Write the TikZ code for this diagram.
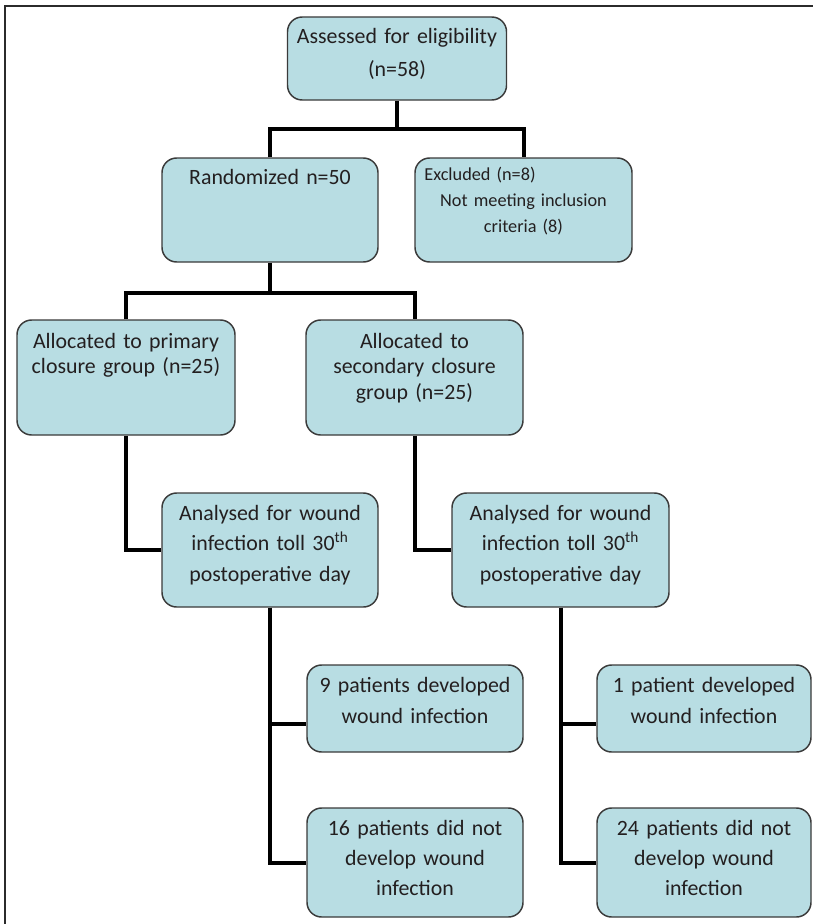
\documentclass[tikz,border=0pt]{standalone}
\usepackage{fontspec}
\setmainfont{Carlito}
\definecolor{boxfill}{HTML}{B8DDE3}
\definecolor{boxline}{HTML}{3A3A3A}
\definecolor{txt}{HTML}{231F20}
\definecolor{frame}{HTML}{2B2B2B}

\begin{document}
\begin{tikzpicture}[line cap=round,line join=round,x=0.75pt,y=-0.75pt,
	box/.style={draw=boxline,fill=boxfill,line width=1.1pt,rounded corners=11pt,inner xsep=0pt,inner ysep=0pt,
		align=center,text=txt,text height=20.25pt,font={\fontsize{16.4}{23}\selectfont}},
	link/.style={line width=3pt,line cap=butt,line join=miter,color=black}]
	\useasboundingbox (0,0) rectangle (813,924);
	\draw[line width=2.2pt,color=frame,line cap=butt,line join=miter] (5,924) -- (5,6) -- (813,6);

	\node[box,text width=164.25pt,text height=19.9pt,text depth=42.35pt,font={\fontsize{16.4}{24.75}\selectfont}] (assess) at (397,58.5) {Assessed for eligibility\\(n=58)};
	\node[box,text width=162pt,text height=19.9pt,text depth=58.1pt] (rand) at (270,210) {Randomized n=50};
	\node[box,text width=162.75pt,text height=16.9pt,text depth=61.1pt,font={\fontsize{13.7}{19.5}\selectfont}] (excl) at (523.5,210) {\hspace*{7pt}Excluded (n=8)\hfill\null\\Not meeting inclusion\\criteria (8)};
	\node[box,text width=163.5pt,text height=21.4pt,text depth=64.85pt,font={\fontsize{16.4}{19}\selectfont}] (prim) at (126,377.5) {Allocated to primary\\closure group (n=25)};
	\node[box,text width=162.75pt,text height=21.4pt,text depth=64.85pt,font={\fontsize{16.4}{19}\selectfont}] (sec) at (414.5,377.5) {Allocated to\\secondary closure\\group (n=25)};
	\node[box,text width=162pt,text depth=65.25pt] (an1) at (270,550) {Analysed for wound\\infection toll 30\textsuperscript{th}\\postoperative day};
	\node[box,text width=162.75pt,text depth=65.25pt] (an2) at (560.5,550) {Analysed for wound\\infection toll 30\textsuperscript{th}\\postoperative day};
	\node[box,text width=162pt,text height=20.6pt,text depth=44.65pt] (pos1) at (415,708.5) {9 patients developed\\wound infection};
	\node[box,text width=160.5pt,text height=20.6pt,text depth=44.65pt] (pos2) at (704,708.5) {1 patient developed\\wound infection};
	\node[box,text width=162pt,text depth=61.5pt,font={\fontsize{16.4}{22.5}\selectfont}] (neg1) at (415,862.5) {16 patients did not\\develop wound\\infection};
	\node[box,text width=160.5pt,text depth=61.5pt,font={\fontsize{16.4}{22.5}\selectfont}] (neg2) at (704,862.5) {24 patients did not\\develop wound\\infection};

	\path (assess.south) ++(0,28) coordinate (j1);
	\path (rand.south) ++(0,30) coordinate (j2);
	\path (pos1.west) ++(0,15.5) coordinate (k1);
	\path (pos2.west) ++(0,15.5) coordinate (k2);
	\draw[link] (assess.south) -- (j1);
	\draw[link] (rand.north) |- (j1) -| (excl.north);
	\draw[link] (rand.south) -- (j2);
	\draw[link] (prim.north) |- (j2) -| (sec.north);
	\draw[link] (prim.south) |- (an1.west);
	\draw[link] (sec.south) |- (an2.west);
	\draw[link] (an1.south) |- (neg1.west);
	\draw[link] (an1.south) |- (k1);
	\draw[link] (an2.south) |- (neg2.west);
	\draw[link] (an2.south) |- (k2);
\end{tikzpicture}
\end{document}
